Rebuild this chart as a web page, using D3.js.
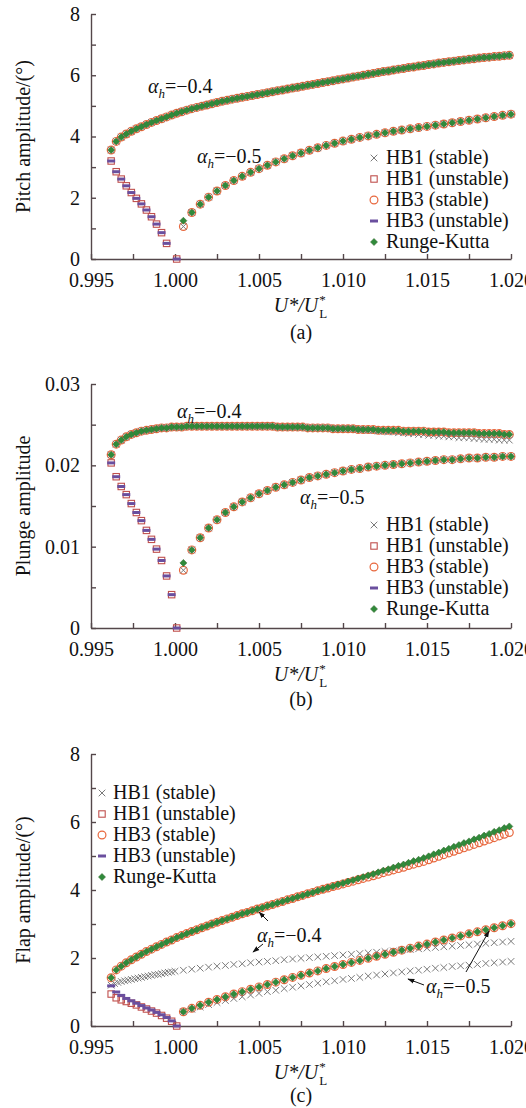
<!DOCTYPE html>
<html><head><meta charset="utf-8">
<script src="https://cdn.jsdelivr.net/npm/d3@7"></script>
<style>
body{margin:0;background:#fff;}
svg{display:block;}
</style></head><body>
<script>
// ---------------- DATA ----------------
const xTickMajor = [0.995, 1.000, 1.005, 1.010, 1.015, 1.020];
const xTickMinor = [0.9975, 1.0025, 1.0075, 1.0125, 1.0175];
const xTickLabels = ["0.995", "1.000", "1.005", "1.010", "1.015", "1.020"];
const seriesNames = ["HB1 (stable)", "HB1 (unstable)", "HB3 (stable)", "HB3 (unstable)", "Runge-Kutta"];

// alpha_h = -0.4 upper branch grid
const x04 = [0.9962,0.9965,0.9968,0.9971,0.9974,0.9977,0.9980,0.9983,0.9986,0.9989,
  0.9992,0.9995,0.9998,1.0001,1.0004,1.0007,1.0010,1.0013,1.0016,1.0019,
  1.0022,1.0025,1.0028,1.0031,1.0034,1.0037,1.0040,1.0043,1.0046,1.0049,
  1.0052,1.0055,1.0058,1.0061,1.0064,1.0067,1.0070,1.0073,1.0076,1.0079,
  1.0082,1.0085,1.0088,1.0091,1.0094,1.0097,1.0100,1.0103,1.0106,1.0109,
  1.0112,1.0115,1.0118,1.0121,1.0124,1.0127,1.0130,1.0133,1.0136,1.0139,
  1.0142,1.0145,1.0148,1.0151,1.0154,1.0157,1.0160,1.0163,1.0166,1.0169,
  1.0172,1.0175,1.0178,1.0181,1.0184,1.0187,1.0190,1.0193,1.0196,1.0199];
// alpha_h = -0.5 stable branch grid
const x05 = [1.0005,1.0010,1.0015,1.0020,1.0025,1.0030,1.0035,1.0040,1.0045,1.0050,
  1.0055,1.0060,1.0065,1.0070,1.0075,1.0080,1.0085,1.0090,1.0095,1.0100,
  1.0105,1.0110,1.0115,1.0120,1.0125,1.0130,1.0135,1.0140,1.0145,1.0150,
  1.0155,1.0160,1.0165,1.0170,1.0175,1.0180,1.0185,1.0190,1.0195,1.0200];
// unstable branch grids
const xUnstA = [0.9962,0.9965,0.9968,0.9971,0.9974,0.9977,0.9980,0.9983,0.9986,0.9989,0.9992,0.9995,1.0001];
const xUnst = [0.9962,0.9965,0.9968,0.9971,0.9974,0.9977,0.9980,0.9983,0.9986,0.9989,0.9992,0.9995,0.9998,1.0001];
// HB1 flap grid (alpha_h = -0.4), dense part before 1.000
const xH1cLow = [0.9962,0.9964,0.9966,0.9968,0.9970,0.9972,0.9974,0.9976,0.9978,0.9980,
  0.9982,0.9984,0.9986,0.9988,0.9990,0.9992,0.9994,0.9996,0.9998,1.0000];

// (a) pitch amplitude
const pitch04 = [3.56,3.84,3.98,4.08,4.17,4.25,4.32,4.39,4.46,4.52,
  4.58,4.64,4.70,4.76,4.81,4.86,4.91,4.95,4.99,5.03,
  5.07,5.11,5.15,5.18,5.22,5.25,5.28,5.31,5.34,5.37,
  5.40,5.43,5.46,5.49,5.52,5.55,5.58,5.61,5.64,5.67,
  5.70,5.73,5.76,5.79,5.82,5.85,5.88,5.91,5.94,5.97,
  6.00,6.03,6.06,6.09,6.12,6.14,6.17,6.20,6.22,6.25,
  6.27,6.30,6.32,6.35,6.37,6.40,6.42,6.44,6.46,6.48,
  6.50,6.52,6.54,6.56,6.58,6.59,6.61,6.62,6.64,6.65];
const pitch05 = [1.06,1.52,1.79,2.02,2.22,2.40,2.56,2.70,2.83,2.95,
  3.06,3.17,3.27,3.37,3.46,3.55,3.63,3.71,3.78,3.85,
  3.91,3.97,4.02,4.07,4.12,4.17,4.21,4.25,4.29,4.33,
  4.37,4.41,4.45,4.49,4.53,4.57,4.61,4.65,4.69,4.73];
const pitch05RK = [1.25,1.52,1.79,2.02,2.22,2.40,2.56,2.70,2.83,2.95,
  3.06,3.17,3.27,3.37,3.46,3.55,3.63,3.71,3.78,3.85,
  3.91,3.97,4.02,4.07,4.12,4.17,4.21,4.25,4.29,4.33,
  4.37,4.41,4.45,4.49,4.53,4.57,4.61,4.65,4.69,4.73];
const pitchUnst = [3.20,2.85,2.61,2.39,2.17,1.98,1.80,1.60,1.38,1.14,0.86,0.51,0];

// (b) plunge amplitude
const plunge04 = [0.0213,0.0226,0.0231,0.0235,0.0238,0.0240,0.0242,0.0243,0.0244,0.0245,
  0.0246,0.0246,0.0247,0.0247,0.0247,0.0248,0.0248,0.0248,0.0248,0.0248,
  0.0248,0.0248,0.0248,0.0248,0.0248,0.0248,0.0248,0.0248,0.0248,0.0248,
  0.0248,0.0248,0.0248,0.0247,0.0247,0.0247,0.0247,0.0247,0.0247,0.0246,
  0.0246,0.0246,0.0246,0.0246,0.0245,0.0245,0.0245,0.0245,0.0245,0.0244,
  0.0244,0.0244,0.0244,0.0243,0.0243,0.0243,0.0243,0.0243,0.0242,0.0242,
  0.0242,0.0242,0.0242,0.0241,0.0241,0.0241,0.0241,0.0240,0.0240,0.0240,
  0.0240,0.0240,0.0240,0.0239,0.0239,0.0239,0.0239,0.0239,0.0238,0.0238];
const plunge04HB1 = [0.0213,0.0226,0.0231,0.0235,0.0238,0.0240,0.0242,0.0243,0.0244,0.0245,
  0.0246,0.0246,0.0247,0.0247,0.0247,0.0248,0.0248,0.0248,0.0248,0.0248,
  0.0248,0.0248,0.0248,0.0248,0.0248,0.0248,0.0248,0.0248,0.0248,0.0248,
  0.0248,0.0248,0.0248,0.0247,0.0247,0.0247,0.0247,0.0247,0.0247,0.0246,
  0.0246,0.0246,0.0246,0.0246,0.0245,0.0245,0.0245,0.0245,0.0245,0.0244,
  0.0244,0.0243,0.0243,0.0242,0.0242,0.0241,0.0241,0.0240,0.0240,0.0239,
  0.0239,0.0238,0.0238,0.0237,0.0237,0.0236,0.0236,0.0235,0.0235,0.0234,
  0.0234,0.0234,0.0233,0.0233,0.0232,0.0232,0.0232,0.0231,0.0231,0.0231];
const plunge05 = [0.0071,0.0096,0.0111,0.0123,0.0133,0.0142,0.0149,0.0155,0.0160,0.0165,
  0.0169,0.0173,0.0176,0.0179,0.0182,0.0185,0.0187,0.0189,0.0191,0.0193,
  0.0195,0.0196,0.0198,0.0199,0.0200,0.0201,0.0202,0.0203,0.0204,0.0205,
  0.0206,0.0207,0.0207,0.0208,0.0209,0.0209,0.0210,0.0210,0.0211,0.0211];
const plunge05RK = [0.0080,0.0096,0.0111,0.0123,0.0133,0.0142,0.0149,0.0155,0.0160,0.0165,
  0.0169,0.0173,0.0176,0.0179,0.0182,0.0185,0.0187,0.0189,0.0191,0.0193,
  0.0195,0.0196,0.0198,0.0199,0.0200,0.0201,0.0202,0.0203,0.0204,0.0205,
  0.0206,0.0207,0.0207,0.0208,0.0209,0.0209,0.0210,0.0210,0.0211,0.0211];
const plungeUnst = [0.0203,0.0186,0.0174,0.0164,0.0153,0.0142,0.0132,0.0120,0.0109,0.0097,0.0083,0.0064,0.0041,0];

// (c) flap amplitude
const flap04RK = [1.42,1.65,1.76,1.86,1.95,2.03,2.11,2.19,2.26,2.33,
  2.40,2.47,2.53,2.60,2.66,2.72,2.78,2.83,2.89,2.94,
  3.00,3.05,3.10,3.15,3.20,3.25,3.30,3.34,3.39,3.44,
  3.48,3.53,3.57,3.62,3.66,3.71,3.75,3.80,3.84,3.89,
  3.93,3.98,4.02,4.07,4.11,4.16,4.20,4.25,4.29,4.34,
  4.38,4.43,4.47,4.52,4.57,4.61,4.66,4.71,4.75,4.80,
  4.85,4.89,4.94,4.99,5.05,5.10,5.16,5.21,5.27,5.32,
  5.38,5.43,5.49,5.54,5.60,5.65,5.71,5.76,5.82,5.87];
const flap04HB3 = [1.42,1.65,1.76,1.86,1.95,2.03,2.11,2.19,2.26,2.33,
  2.40,2.47,2.53,2.60,2.66,2.72,2.78,2.83,2.89,2.94,
  3.00,3.05,3.10,3.15,3.20,3.25,3.30,3.34,3.39,3.44,
  3.48,3.53,3.57,3.62,3.66,3.71,3.75,3.80,3.84,3.89,
  3.93,3.98,4.02,4.06,4.10,4.14,4.18,4.22,4.26,4.30,
  4.34,4.38,4.42,4.46,4.51,4.55,4.59,4.63,4.67,4.72,
  4.76,4.80,4.84,4.89,4.94,4.99,5.04,5.09,5.14,5.19,
  5.24,5.29,5.34,5.39,5.44,5.49,5.54,5.59,5.64,5.69];
const flap04HB1 = [1.20,1.25,1.28,1.31,1.33,1.35,1.37,1.39,1.41,1.43,
  1.45,1.47,1.49,1.51,1.52,1.54,1.56,1.58,1.59,1.61,
  1.64,1.67,1.70,1.73,1.76,1.78,1.81,1.83,1.86,1.88,
  1.90,1.92,1.95,1.97,1.99,2.01,2.03,2.05,2.07,2.09,
  2.11,2.13,2.15,2.17,2.19,2.21,2.23,2.25,2.27,2.29,
  2.31,2.33,2.35,2.37,2.39,2.41,2.43,2.45,2.47,2.49];
const flap05RK = [0.42,0.52,0.61,0.70,0.78,0.86,0.94,1.01,1.08,1.15,
  1.22,1.29,1.36,1.43,1.49,1.56,1.62,1.69,1.75,1.81,
  1.87,1.93,1.99,2.05,2.11,2.17,2.23,2.29,2.35,2.41,
  2.47,2.53,2.59,2.65,2.71,2.77,2.83,2.89,2.95,3.01];
const flap05HB1 = [0.42,0.49,0.56,0.63,0.69,0.75,0.81,0.86,0.91,0.96,
  1.01,1.05,1.10,1.14,1.18,1.22,1.26,1.30,1.33,1.37,
  1.40,1.43,1.47,1.50,1.53,1.56,1.59,1.62,1.64,1.67,
  1.70,1.72,1.75,1.77,1.79,1.81,1.84,1.86,1.88,1.90];
const flapUnstHB3 = [1.18,1.00,0.90,0.81,0.74,0.67,0.60,0.53,0.47,0.40,0.33,0.25,0.15,0];
const flapUnstHB1 = [0.94,0.83,0.77,0.72,0.67,0.62,0.56,0.50,0.44,0.38,0.31,0.23,0.14,0];

// ---------------- DRAWING ----------------
const FONT = '"Liberation Serif"';
const FS = 20, FSS = 13;
const W = 526, H = 1108;
const svg = d3.select("body").append("svg").attr("width", W).attr("height", H)
  .attr("font-family", FONT);
svg.append("defs").append("marker").attr("id", "ah")
  .attr("viewBox", "0 0 10 10").attr("refX", 9).attr("refY", 5)
  .attr("markerWidth", 7).attr("markerHeight", 7).attr("orient", "auto")
  .append("path").attr("d", "M0,1.5L10,5L0,8.5Z").attr("fill", "#111");

const x = d3.scaleLinear().domain([0.995, 1.020]).range([91, 511]);
const AX = "#54474a";
const C_CROSS = "#7a7a7a", C_SQ = "#c0504d", C_CIR = "#e8683e", C_DASH = "#6a4f9e", C_RK = "#2f8a3a";

const markers = {
  circle: g => g.append("circle").attr("r", 3.9).attr("fill", "none").attr("stroke", C_CIR).attr("stroke-width", 1.2),
  square: g => g.append("rect").attr("x", -3.2).attr("y", -3.2).attr("width", 6.4).attr("height", 6.4).attr("fill", "none").attr("stroke", C_SQ).attr("stroke-width", 1.1),
  cross: g => g.append("path").attr("d", "M-3.3,-3.3L3.3,3.3M-3.3,3.3L3.3,-3.3").attr("stroke", C_CROSS).attr("stroke-width", 1),
  dash: g => g.append("path").attr("d", "M-4,0H4").attr("stroke", C_DASH).attr("stroke-width", 3),
  diamond: g => g.append("path").attr("d", "M0,-3.5L3.5,0L0,3.5L-3.5,0Z").attr("fill", C_RK).attr("stroke", "#3b6e35").attr("stroke-width", 0.6)
};
const legendKinds = ["cross", "square", "circle", "dash", "diamond"];

function txt(g, xx, yy, s) {
  return g.append("text").attr("x", xx).attr("y", yy).attr("font-family", FONT)
    .style("font-size", FS + "px").attr("fill", "#111").text(s || null);
}

function drawPanel(p) {
  const y = d3.scaleLinear().domain([0, p.yMax]).range([p.bottom, p.top]);
  const g = svg.append("g");
  const xa = g.append("g").attr("transform", `translate(0,${p.bottom})`)
    .call(d3.axisBottom(x).tickValues(xTickMajor.concat(xTickMinor))
      .tickFormat(d => { const i = xTickMajor.indexOf(d); return i >= 0 ? xTickLabels[i] : ""; })
      .tickSize(-5).tickSizeOuter(0).tickPadding(14));
  const ya = g.append("g").attr("transform", `translate(${x.range()[0]},0)`)
    .call(d3.axisLeft(y).tickValues(p.yTicks)
      .tickFormat(d => { const i = p.yLabelVals.indexOf(d); return i >= 0 ? p.yLabels[i] : ""; })
      .tickSize(-5).tickSizeOuter(0).tickPadding(11));
  [xa, ya].forEach(a => {
    a.attr("font-family", FONT).attr("font-size", null);
    a.selectAll("path,line").attr("stroke", AX).attr("stroke-width", 1.4);
    a.selectAll("text").attr("fill", "#111").attr("font-family", FONT).style("font-size", FS + "px");
  });
  // y title
  txt(g, 0, 0, p.yTitle).attr("transform", `translate(30,${(p.top + p.bottom) / 2}) rotate(-90)`)
    .attr("text-anchor", "middle");
  // x title: U*/U*_L
  const t = txt(g, 296, p.bottom + 53).attr("text-anchor", "middle");
  t.append("tspan").style("font-style", "italic").text("U*/U");
  const tx0 = 296 + t.node().getComputedTextLength() / 2 + 1;
  g.append("text").attr("x", tx0).attr("y", p.bottom + 45).attr("font-family", FONT)
    .style("font-size", FSS + "px").attr("fill", "#111").text("*");
  g.append("text").attr("x", tx0).attr("y", p.bottom + 59).attr("font-family", FONT)
    .style("font-size", FSS + "px").attr("fill", "#111").text("L");
  // panel tag
  txt(g, 301, p.bottom + p.tagOff, p.tag).attr("text-anchor", "middle");
  // data
  p.series.forEach(s => {
    g.append("g").selectAll("g").data(s.x.map((xv, i) => [xv, s.y[i]])).join("g")
      .attr("transform", d => `translate(${x(d[0])},${y(d[1])})`)
      .each(function () { markers[s.kind](d3.select(this)); });
  });
  // legend
  seriesNames.forEach((name, i) => {
    const ly = p.legend.y + i * 21;
    const mg = g.append("g").attr("transform", `translate(${p.legend.mx},${ly - 6})`);
    markers[legendKinds[i]](mg);
    txt(g, p.legend.tx, ly, name);
  });
  // annotations
  p.notes.forEach(n => {
    const tt = txt(g, n.x, n.y);
    tt.append("tspan").style("font-style", "italic").text("α");
    tt.append("tspan").style("font-style", "italic").style("font-size", FSS + "px").attr("dy", 5).text("h");
    tt.append("tspan").attr("dy", -5).text("=−" + n.v);
  });
  (p.arrows || []).forEach(a => {
    g.append("line").attr("x1", a[0]).attr("y1", a[1]).attr("x2", a[2]).attr("y2", a[3])
      .attr("stroke", "#111").attr("stroke-width", 1).attr("marker-end", "url(#ah)");
  });
}

drawPanel({
  top: 14, bottom: 259, yMax: 8, tagOff: 80,
  yTicks: [0, 1, 2, 3, 4, 5, 6, 7, 8], yLabelVals: [0, 2, 4, 6, 8], yLabels: ["0", "2", "4", "6", "8"],
  yTitle: "Pitch amplitude/(°)", tag: "(a)",
  series: [
    { kind: "circle", x: x04, y: pitch04 }, { kind: "circle", x: x05, y: pitch05 },
    { kind: "square", x: xUnstA, y: pitchUnst },
    { kind: "cross", x: x04, y: pitch04 }, { kind: "cross", x: x05, y: pitch05 },
    { kind: "dash", x: xUnstA, y: pitchUnst },
    { kind: "diamond", x: x04, y: pitch04 }, { kind: "diamond", x: x05, y: pitch05RK }
  ],
  legend: { mx: 374, tx: 386, y: 164 },
  notes: [{ x: 148, y: 93, v: "0.4" }, { x: 197, y: 163, v: "0.5" }]
});
drawPanel({
  top: 384, bottom: 628, yMax: 0.03, tagOff: 78,
  yTicks: [0, 0.005, 0.01, 0.015, 0.02, 0.025, 0.03], yLabelVals: [0, 0.01, 0.02, 0.03], yLabels: ["0", "0.01", "0.02", "0.03"],
  yTitle: "Plunge amplitude", tag: "(b)",
  series: [
    { kind: "circle", x: x04, y: plunge04 }, { kind: "circle", x: x05, y: plunge05 },
    { kind: "square", x: xUnst, y: plungeUnst },
    { kind: "cross", x: x04, y: plunge04HB1 }, { kind: "cross", x: x05, y: plunge05 },
    { kind: "dash", x: xUnst, y: plungeUnst },
    { kind: "diamond", x: x04, y: plunge04 }, { kind: "diamond", x: x05, y: plunge05RK }
  ],
  legend: { mx: 374, tx: 386, y: 531 },
  notes: [{ x: 177, y: 418, v: "0.4" }, { x: 300, y: 504, v: "0.5" }]
});
drawPanel({
  top: 754, bottom: 1026, yMax: 8, tagOff: 76,
  yTicks: [0, 1, 2, 3, 4, 5, 6, 7, 8], yLabelVals: [0, 2, 4, 6, 8], yLabels: ["0", "2", "4", "6", "8"],
  yTitle: "Flap amplitude/(°)", tag: "(c)",
  series: [
    { kind: "circle", x: x04, y: flap04HB3 }, { kind: "circle", x: x05, y: flap05RK },
    { kind: "square", x: xUnst, y: flapUnstHB1 },
    { kind: "cross", x: xH1cLow.concat(x05), y: flap04HB1 }, { kind: "cross", x: x05, y: flap05HB1 },
    { kind: "dash", x: xUnst, y: flapUnstHB3 },
    { kind: "diamond", x: x04, y: flap04RK }, { kind: "diamond", x: x05, y: flap05RK }
  ],
  legend: { mx: 102, tx: 113, y: 799 },
  notes: [{ x: 257, y: 942, v: "0.4" }, { x: 426, y: 993, v: "0.5" }],
  arrows: [[268, 921, 259, 912], [263, 944, 253, 952], [424, 985, 408, 979], [466, 972, 489, 931]]
});
</script>
</body></html>
